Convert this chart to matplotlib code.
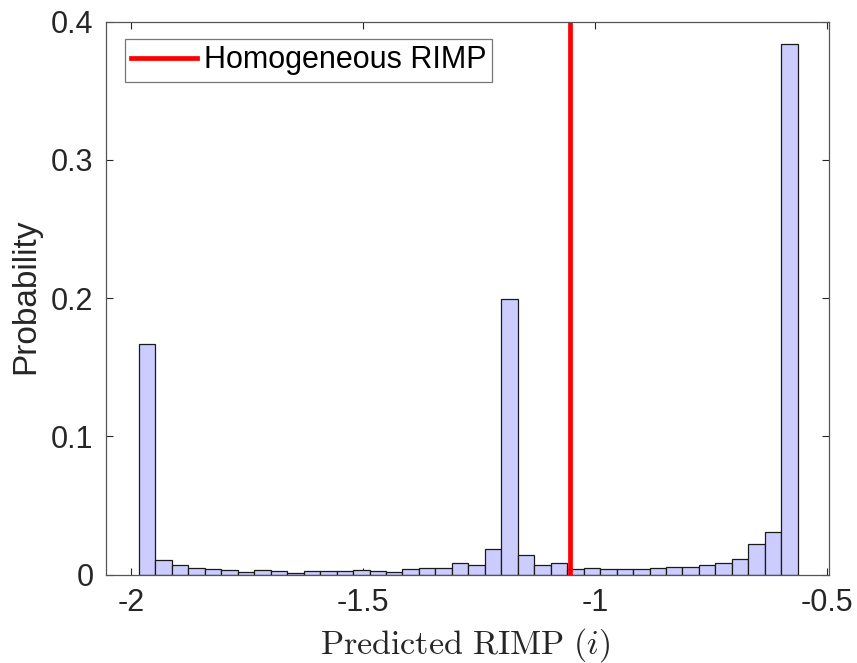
import numpy as np
import matplotlib
matplotlib.use("Agg")
import matplotlib.pyplot as plt

plt.rcParams['font.family'] = ['Liberation Sans', 'DejaVu Sans']
plt.rcParams['mathtext.fontset'] = 'cm'
plt.rcParams['axes.unicode_minus'] = False

# ---- data ----
bin_start = -1.983
bin_end = -0.563
n_bins = 40
probabilities = [
    0.167, 0.0105, 0.0067, 0.0049, 0.0042, 0.0035, 0.0016, 0.0035, 0.0025, 0.0009,
    0.0025, 0.0025, 0.0025, 0.0035, 0.0025, 0.0016, 0.0042, 0.0047, 0.0047, 0.0081,
    0.0071, 0.0182, 0.199, 0.0139, 0.0071, 0.0081, 0.0042, 0.0049, 0.0040, 0.0040,
    0.0040, 0.0049, 0.0056, 0.0056, 0.0071, 0.0081, 0.011, 0.0218, 0.0305, 0.384,
]
homogeneous_rimp = -1.054
xticks = [-2, -1.5, -1, -0.5]
xtick_labels = ['-2', '-1.5', '-1', '-0.5']
yticks = [0, 0.1, 0.2, 0.3, 0.4]
ytick_labels = ['0', '0.1', '0.2', '0.3', '0.4']

edges = np.linspace(bin_start, bin_end, n_bins + 1)

fig = plt.figure(figsize=(8.57, 6.63), dpi=100)
ax = fig.add_axes([106/857, 1 - 574.5/663, (829-106)/857, (574.5-21.5)/663])

ax.bar(edges[:-1], probabilities, width=np.diff(edges), align='edge',
       facecolor=(0.8, 0.8, 1.0), edgecolor='#1a1a1a', linewidth=0.9, zorder=2)
ax.axvline(homogeneous_rimp, color='#ff0000', linewidth=3.4, zorder=3,
           label='Homogeneous RIMP')

ax.set_xlim(-2.054, -0.4957)
ax.set_ylim(0, 0.4)
ax.set_xticks(xticks)
ax.set_xticklabels(xtick_labels)
ax.set_yticks(yticks)
ax.set_yticklabels(ytick_labels)

spine_col = '#555555'
for s in ax.spines.values():
    s.set_color(spine_col)
    s.set_linewidth(0.9)
    s.set_zorder(4)
ax.tick_params(direction='in', length=5, width=0.8, color='#262626',
               top=True, right=True, labelsize=22, labelcolor='#262626', zorder=5)
ax.tick_params(axis='x', pad=10)
ax.tick_params(axis='y', pad=9)

ax.set_xlabel(r'$\mathrm{Predicted\ RIMP}\ (i)$', fontsize=24.5, color='#262626')
ax.xaxis.set_label_coords(0.4965, -0.093)
ax.set_ylabel('Probability', fontsize=24, color='#262626')
ax.yaxis.set_label_coords(-0.111, 0.503)
ax.yaxis.label.set_verticalalignment('center')

leg = ax.legend(loc='upper left', bbox_to_anchor=((125-106)/723, 1 - (39.3-21.5)/553),
                borderaxespad=0, fontsize=22, frameon=True, fancybox=False,
                handlelength=2.15, handletextpad=0.23, borderpad=0.2)
leg.get_frame().set_edgecolor(spine_col)
leg.get_frame().set_linewidth(0.9)
for txt in leg.get_texts():
    txt.set_color('#000000')

fig.savefig('out.png', dpi=100)
